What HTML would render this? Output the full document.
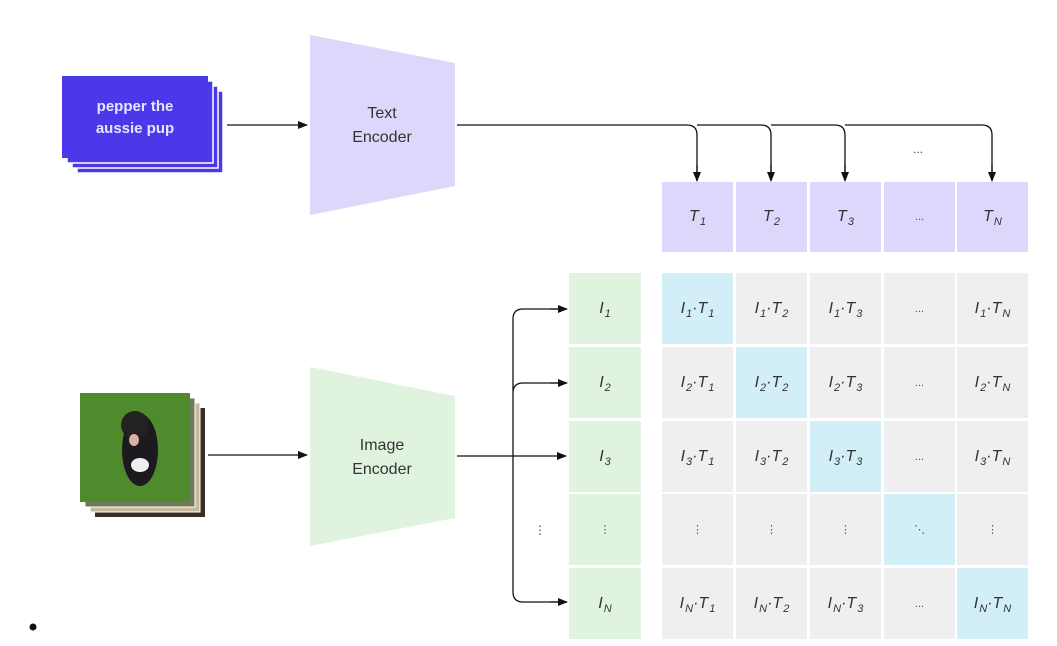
<!DOCTYPE html>
<html><head><style>
body{margin:0;background:#fff;width:1057px;height:646px;overflow:hidden;position:relative;font-family:"Liberation Sans",sans-serif}
.c{position:absolute;display:flex;align-items:center;justify-content:center;font-family:"Liberation Sans",sans-serif;font-style:italic;font-size:16px;color:#333;white-space:nowrap}
.s{font-size:11px;position:relative;top:5px;margin-left:1px}
.d{font-style:normal;font-size:11px;color:#555}
</style></head><body>
<svg width="1057" height="646" style="position:absolute;left:0;top:0">
<defs><marker id="a" markerWidth="10" markerHeight="8" refX="9" refY="4" orient="auto" markerUnits="userSpaceOnUse"><path d="M0,0 L10,4 L0,8z" fill="#111"/></marker></defs>
<rect x="77" y="91" width="146" height="82" fill="#4b38e8" stroke="#fff" stroke-width="1.5"/>
<rect x="72" y="86" width="146" height="82" fill="#4b38e8" stroke="#fff" stroke-width="1.5"/>
<rect x="67" y="81" width="146" height="82" fill="#4b38e8" stroke="#fff" stroke-width="1.5"/>
<rect x="62" y="76" width="146" height="82" fill="#4b38e8"/>
<text x="135" y="111" font-size="15" font-weight="bold" fill="#e8e6ff" text-anchor="middle" font-family="Liberation Sans">pepper the</text>
<text x="135" y="133" font-size="15" font-weight="bold" fill="#e8e6ff" text-anchor="middle" font-family="Liberation Sans">aussie pup</text>
<line x1="227" y1="125" x2="307" y2="125" stroke="#111" stroke-width="1.3" marker-end="url(#a)"/>
<polygon points="310,35 455,63 455,186 310,215" fill="#dcd8fb"/>
<text x="382" y="118" font-size="16" fill="#333" text-anchor="middle">Text</text>
<text x="382" y="142" font-size="16" fill="#333" text-anchor="middle">Encoder</text>
<path d="M457,125 H687 Q697,125 697,135 V180 M697,125 H761 Q771,125 771,135 V180 M771,125 H835 Q845,125 845,135 V180 M845,125 H982 Q992,125 992,135 V180" fill="none" stroke="#111" stroke-width="1.3"/>
<line x1="697" y1="165" x2="697" y2="181" stroke="#111" stroke-width="1.3" marker-end="url(#a)"/>
<line x1="771" y1="165" x2="771" y2="181" stroke="#111" stroke-width="1.3" marker-end="url(#a)"/>
<line x1="845" y1="165" x2="845" y2="181" stroke="#111" stroke-width="1.3" marker-end="url(#a)"/>
<line x1="992" y1="165" x2="992" y2="181" stroke="#111" stroke-width="1.3" marker-end="url(#a)"/>
<text x="918" y="153" font-size="12" fill="#444" text-anchor="middle">...</text>
<rect x="95" y="408" width="110" height="109" fill="#3a2e22"/>
<rect x="90" y="403" width="110" height="109" fill="#c9b79a" stroke="#fff"/>
<rect x="85" y="398" width="110" height="109" fill="#6f7a5a" stroke="#fff"/>
<rect x="80" y="393" width="110" height="109" fill="#4f8a2c"/>
<ellipse cx="140" cy="450" rx="18" ry="36" fill="#1c1a1e"/>
<circle cx="135" cy="425" r="14" fill="#222"/>
<ellipse cx="134" cy="440" rx="5" ry="6" fill="#d9b0a6"/>
<ellipse cx="140" cy="465" rx="9" ry="7" fill="#eee"/>
<line x1="208" y1="455" x2="307" y2="455" stroke="#111" stroke-width="1.3" marker-end="url(#a)"/>
<polygon points="310,367 455,396 455,518 310,546" fill="#dff3df"/>
<text x="382" y="450" font-size="16" fill="#333" text-anchor="middle">Image</text>
<text x="382" y="474" font-size="16" fill="#333" text-anchor="middle">Encoder</text>
<line x1="457" y1="456" x2="566" y2="456" stroke="#111" stroke-width="1.3" marker-end="url(#a)"/>
<path d="M566,309 H523 Q513,309 513,319 V592 Q513,602 523,602 H566 M566,383 H523 Q513,383 513,393" fill="none" stroke="#111" stroke-width="1.3"/>
<line x1="550" y1="309" x2="567" y2="309" stroke="#111" stroke-width="1.3" marker-end="url(#a)"/>
<line x1="550" y1="383" x2="567" y2="383" stroke="#111" stroke-width="1.3" marker-end="url(#a)"/>
<line x1="550" y1="602" x2="567" y2="602" stroke="#111" stroke-width="1.3" marker-end="url(#a)"/>
<text x="540" y="534" font-size="12" fill="#444" text-anchor="middle">⋮</text>
<circle cx="33" cy="627" r="3.5" fill="#111"/>
</svg>
<div id="g"></div>
<script>
const cx=[662,736,810,884,957],w=71,ry=[273,347,421,494,568],h=71;
const sb=x=>`<span class="s">${x}</span>`;
const T=['T'+sb(1),'T'+sb(2),'T'+sb(3),'<span class="d">...</span>','T'+sb('N')];
const I=['I'+sb(1),'I'+sb(2),'I'+sb(3),'<span class="d">⋮</span>','I'+sb('N')];
let s='';
for(let j=0;j<5;j++)s+=`<div class="c" style="left:${cx[j]}px;top:182px;width:${w}px;height:70px;background:#dcd8fb">${T[j]}</div>`;
for(let i=0;i<5;i++){
s+=`<div class="c" style="left:569px;top:${ry[i]}px;width:72px;height:${h}px;background:#dff3df">${I[i]}</div>`;
for(let j=0;j<5;j++){let t;
if(i==3)t=j==3?'<span class="d">⋱</span>':'<span class="d">⋮</span>';else if(j==3)t='<span class="d">...</span>';else t=I[i]+'·'+T[j];
s+=`<div class="c" style="left:${cx[j]}px;top:${ry[i]}px;width:${w}px;height:${h}px;background:${i==j?'#d2eef7':'#efefef'}">${t}</div>`;}}
document.getElementById('g').innerHTML=s;
</script>
</body></html>
